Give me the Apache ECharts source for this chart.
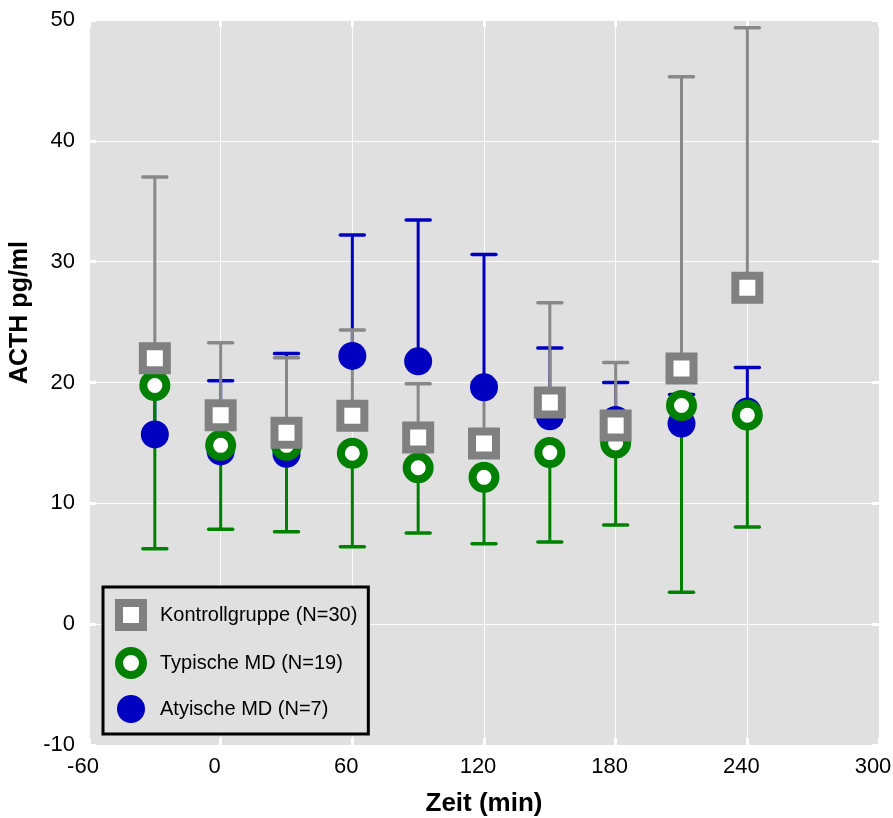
<!DOCTYPE html>
<html>
<head>
<meta charset="utf-8">
<script src="https://cdn.jsdelivr.net/npm/echarts@6/dist/echarts.min.js"></script>
<style>
html,body{margin:0;padding:0;background:#fff;}
#main{width:893px;height:818px;}
</style>
</head>
<body>
<div id="main"></div>
<script>
// Zeitpunkte (min)
var zeit = [-30, 0, 30, 60, 90, 120, 150, 180, 210, 240];
// Kontrollgruppe: Mittelwert + obere Fehlergrenze
var kontrollMean  = [22.0, 17.3, 15.85, 17.25, 15.45, 14.95, 18.35, 16.45, 21.15, 27.85];
var kontrollUpper = [37.0, 23.3, 22.05, 24.35, 19.9, 20.0, 26.6, 21.65, 45.3, 49.35];
// Typische MD: Mittelwert + untere Fehlergrenze
var typMean  = [19.75, 14.8, 14.8, 14.15, 12.95, 12.15, 14.2, 15.0, 18.1, 17.3];
var typLower = [6.25, 7.85, 7.65, 6.4, 7.55, 6.65, 6.8, 8.2, 2.65, 8.05];
// Atypische MD: Mittelwert + obere Fehlergrenze
var atypMean  = [15.7, 14.3, 14.1, 22.2, 21.75, 19.6, 17.2, 16.9, 16.6, 17.6];
var atypUpper = [20.0, 20.15, 22.4, 32.2, 33.45, 30.6, 22.85, 20.0, 19.0, 21.25];

var xTicks = [-60, 0, 60, 120, 180, 240, 300];
var yTicks = [-10, 0, 10, 20, 30, 40, 50];

var names = ['Kontrollgruppe (N=30)', 'Typische MD (N=19)', 'Atyische MD (N=7)'];

function punkte(mean){
	var arr = [];
	for(var i=0;i<zeit.length;i++){
		arr.push([zeit[i], mean[i]]);
	}
	return arr;
}
function fehler(mean, end){
	var arr = [];
	for(var i=0;i<zeit.length;i++){
		arr.push([zeit[i], mean[i], end[i]]);
	}
	return arr;
}

// Fehlerbalken zeichnen (vom Mittelwert bis zur Grenze, mit Querstrich)
function errBar(color){
	return function(params, api){
		var p0 = api.coord([api.value(0), api.value(1)]);
		var p1 = api.coord([api.value(0), api.value(2)]);
		var hw = 12;
		return {
			type: 'group',
			children: [
				{type:'line', shape:{x1:p0[0], y1:p0[1], x2:p1[0], y2:p1[1]}, style:{stroke:color, lineWidth:3}},
				{type:'line', shape:{x1:p1[0]-hw, y1:p1[1], x2:p1[0]+hw, y2:p1[1]}, style:{stroke:color, lineWidth:3.5, lineCap:'round'}}
			]
		};
	};
}

var myChart = echarts.init(document.getElementById('main'));
var tickStyle = {show:true, inside:true, length:7, lineStyle:{color:'#ffffff', width:3}};
var font = 'Liberation Sans, Arial, sans-serif';
var option = {
	backgroundColor: '#ffffff',
	animation: false,
	grid: {
		left: 89, right: 14, top: 20, bottom: 73,
		outerBoundsMode: 'none', containLabel: false,
		show: true, backgroundColor: '#e0e0e0', borderWidth: 0
	},
	legend: {
		orient: 'vertical',
		left: 103, top: 587,
		padding: [12, 11, 11, 12],
		itemWidth: 24, itemHeight: 24, itemGap: 16,
		backgroundColor: '#e0e0e0',
		borderColor: '#000000', borderWidth: 3,
		textStyle: {fontFamily:font, fontSize:20, color:'#000', padding:[0,0,0,12]},
		data: [
			{name: names[0], icon: 'rect', itemStyle: {color:'#ffffff', borderColor:'#808080', borderWidth:8}},
			{name: names[1], icon: 'circle', itemStyle: {color:'#ffffff', borderColor:'#008000', borderWidth:8}},
			{name: names[2], icon: 'circle', itemStyle: {color:'#0000c0', borderColor:'#0000c0', borderWidth:4}}
		]
	},
	xAxis: [
		{
			type: 'value', min: -60, max: 300, interval: 60, position: 'bottom',
			name: 'Zeit (min)', nameLocation: 'middle', nameGap: 46,
			nameTextStyle: {fontFamily:font, fontSize:26, fontWeight:'bold', color:'#000'},
			axisLine: {show:false, onZero:false},
			axisTick: tickStyle,
			axisLabel: {fontFamily:font, fontSize:22, color:'#000', margin:11, padding:[0,12,0,0],
				formatter: function(v){ return xTicks.indexOf(v) >= 0 ? String(v) : ''; }},
			splitLine: {show:true, lineStyle:{color:'#ffffff', width:1, opacity:0.9}}
		},
		{
			type: 'value', min: -60, max: 300, interval: 60, position: 'top',
			axisLine: {show:false, onZero:false}, axisTick: tickStyle, axisLabel: {show:false}, splitLine: {show:false}
		}
	],
	yAxis: [
		{
			type: 'value', min: -10, max: 50, interval: 10, position: 'left',
			name: 'ACTH pg/ml', nameLocation: 'middle', nameGap: 55,
			nameTextStyle: {fontFamily:font, fontSize:25, fontWeight:'bold', color:'#000', padding:[0,0,0,140]},
			axisLine: {show:false, onZero:false},
			axisTick: tickStyle,
			axisLabel: {fontFamily:font, fontSize:22, color:'#000', margin:14,
				formatter: function(v){ return yTicks.indexOf(v) >= 0 ? String(v) : ''; }},
			splitLine: {show:true, lineStyle:{color:'#ffffff', width:1, opacity:0.9}}
		},
		{
			type: 'value', min: -10, max: 50, interval: 10, position: 'right',
			axisLine: {show:false, onZero:false}, axisTick: tickStyle, axisLabel: {show:false}, splitLine: {show:false}
		}
	],
	series: [
		{name:'atypErr', type:'custom', renderItem: errBar('#0000c0'), data: fehler(atypMean, atypUpper), silent:true},
		{name:names[2], type:'scatter', symbol:'circle', symbolSize:28, data: punkte(atypMean),
			itemStyle:{color:'#0000c0', opacity:1}},
		{name:'typErr', type:'custom', renderItem: errBar('#008000'), data: fehler(typMean, typLower), silent:true},
		{name:names[1], type:'scatter', symbol:'circle', symbolSize:23, data: punkte(typMean),
			itemStyle:{color:'#ffffff', borderColor:'#008000', borderWidth:8, opacity:1}},
		{name:'kontrollErr', type:'custom', renderItem: errBar('#888888'), data: fehler(kontrollMean, kontrollUpper), silent:true},
		{name:names[0], type:'scatter', symbol:'rect', symbolSize:24, data: punkte(kontrollMean),
			itemStyle:{color:'#ffffff', borderColor:'#808080', borderWidth:8, opacity:1}}
	]
};
myChart.setOption(option);
</script>
</body>
</html>
